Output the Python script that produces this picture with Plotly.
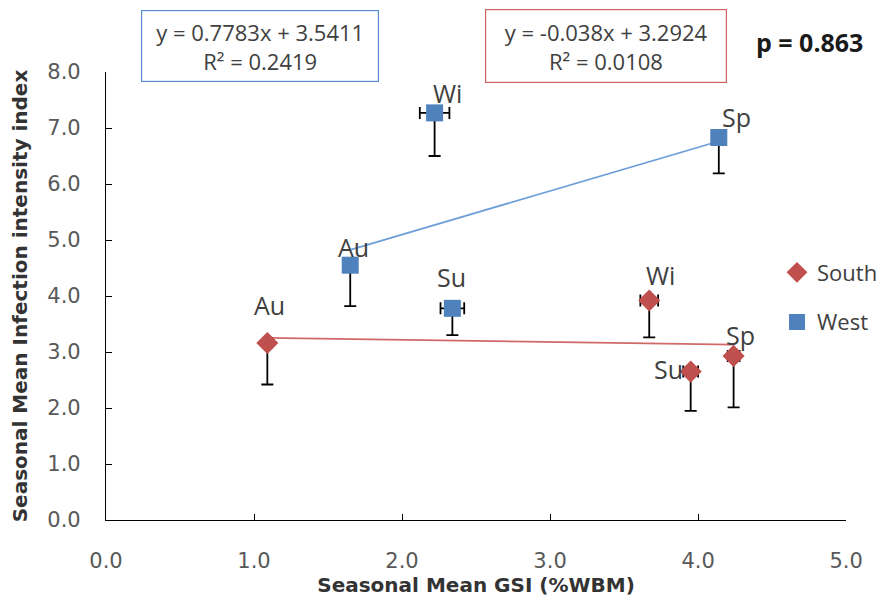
import plotly.graph_objects as go

# ---------------- data ----------------
seasons = ["Au", "Wi", "Su", "Sp"]

west_x = [1.65, 2.22, 2.34, 4.14]
west_y = [4.55, 7.27, 3.78, 6.83]
west_xerr = [0.0, 0.10, 0.08, 0.04]
west_yerr_minus = [0.73, 0.77, 0.48, 0.64]

south_x = [1.09, 3.67, 3.95, 4.24]
south_y = [3.16, 3.92, 2.65, 2.93]
south_xerr = [0.03, 0.06, 0.05, 0.04]
south_yerr_minus = [0.74, 0.66, 0.70, 0.92]

west_fit = [0.7783, 3.5411]     # slope, intercept
west_r2 = 0.2419
south_fit = [-0.038, 3.2924]
south_r2 = 0.0108
p_value = 0.863

x_ticks = [0, 1, 2, 3, 4, 5]
y_ticks = [0, 1, 2, 3, 4, 5, 6, 7, 8]

# ---------------- style ----------------
BLUE = "#4f81bd"
RED = "#c0504d"
BLUE_LINE = "#6f9fd8"
RED_LINE = "#d06a68"
TEXT = "#404040"
LABEL_FONT = dict(family="Open Sans", size=25, color=TEXT)

# label offsets (px) for each season label, per series
west_label_shift = [(3, 18), (13, 20), (-1, 31), (18, 21)]
south_label_shift = [(2, 38), (11, 25), (-22, 3), (7, 21)]

fig = go.Figure()

# trendlines
for xs, fit, col in [(south_x, south_fit, RED_LINE), (west_x, west_fit, BLUE_LINE)]:
    x0, x1 = min(xs), max(xs)
    fig.add_trace(go.Scatter(
        x=[x0, x1], y=[fit[0] * x0 + fit[1], fit[0] * x1 + fit[1]],
        mode="lines", line=dict(color=col, width=1.8),
        showlegend=False, hoverinfo="skip"))

err_style = dict(color="black", thickness=1.8, width=6)

fig.add_trace(go.Scatter(
    x=south_x, y=south_y, mode="markers", name="South",
    legendgroup="s",
    marker=dict(symbol="diamond", size=17, color=RED),
    error_y=dict(type="data", symmetric=False,
                 array=[0] * len(south_y), arrayminus=south_yerr_minus, **err_style),
    error_x=dict(type="data", array=south_xerr, **err_style),
))
fig.add_trace(go.Scatter(
    x=west_x, y=west_y, mode="markers", name="West",
    legendgroup="w",
    marker=dict(symbol="square", size=17, color=BLUE),
    error_y=dict(type="data", symmetric=False,
                 array=[0] * len(west_y), arrayminus=west_yerr_minus, **err_style),
    error_x=dict(type="data", array=west_xerr, **err_style),
))

# season labels
for xs, ys, shifts in [(west_x, west_y, west_label_shift), (south_x, south_y, south_label_shift)]:
    for s, xv, yv, (dx, dy) in zip(seasons, xs, ys, shifts):
        fig.add_annotation(x=xv, y=yv, text=s, showarrow=False,
                           xshift=dx, yshift=dy, font=LABEL_FONT)

# equation boxes
box_font = dict(family="Open Sans", size=22, color=TEXT)
fig.add_annotation(
    xref="paper", yref="paper", x=0.1995, y=1.058, showarrow=False,
    xanchor="center", yanchor="middle",
    text=f"y = {west_fit[0]}x + {west_fit[1]}<br>R² = {west_r2}",
    font=box_font, bordercolor="#5b8fd0", borderwidth=1.2, borderpad=2,
    width=232, height=66, bgcolor="white", align="center")
fig.add_annotation(
    xref="paper", yref="paper", x=0.6454, y=1.058, showarrow=False,
    xanchor="center", yanchor="middle",
    text=f"y = {south_fit[0]}x + {south_fit[1]}<br>R² = {south_r2}",
    font=box_font, bordercolor="#cc6666", borderwidth=1.2, borderpad=2,
    width=236, height=68, bgcolor="white", align="center")
fig.add_annotation(
    xref="paper", yref="paper", x=0.9086, y=1.067, showarrow=False,
    xanchor="center", yanchor="middle",
    text=f"<b>p = {p_value}</b>",
    font=dict(family="Open Sans", size=25, color="#1a1a1a"))

axis_common = dict(
    showline=True, linecolor="black", linewidth=1.2,
    ticks="inside", ticklen=6, tickcolor="black",
    showgrid=False, zeroline=False, tickformat=".1f",
    tickfont=dict(family="DejaVu Sans", size=21, color="#595959"),
    automargin=False,
)

fig.update_xaxes(range=[0, 5], tickvals=x_ticks, domain=[0, 0.9562],
                 ticklabelstandoff=22, **axis_common,
                 title=dict(text="<b>Seasonal Mean GSI (%WBM)</b>",
                            font=dict(family="DejaVu Sans", size=20, color="#333333"),
                            standoff=1))
fig.update_yaxes(range=[0, 8], tickvals=y_ticks, ticklabelstandoff=20, **axis_common,
                 title=dict(text="<b>Seasonal Mean Infection intensity index</b>",
                            font=dict(family="DejaVu Sans", size=20, color="#333333"),
                            standoff=14))

fig.update_layout(
    width=883, height=601,
    margin=dict(l=106, r=0, t=72, b=81),
    paper_bgcolor="white", plot_bgcolor="white",
    legend=dict(x=0.8674, y=0.4967, xanchor="left", yanchor="middle",
                font=dict(family="Open Sans", size=22, color=TEXT),
                tracegroupgap=18, bgcolor="rgba(0,0,0,0)", itemwidth=30),
)

fig.write_html("out.html")
